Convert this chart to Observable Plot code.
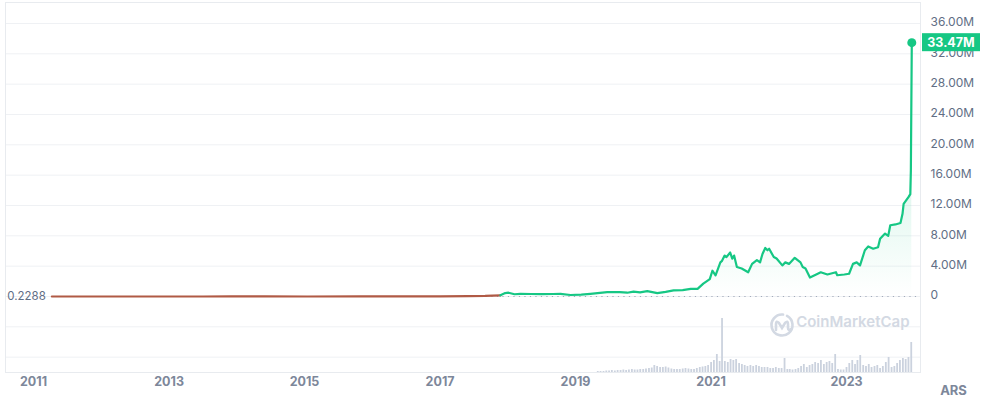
<!DOCTYPE html>
<html><head><meta charset="utf-8">
<script src="https://cdn.jsdelivr.net/npm/d3@7"></script>
<script src="https://cdn.jsdelivr.net/npm/@observablehq/plot@0.6"></script>
<style>
html,body{margin:0;padding:0;background:#fff;}
#chart{position:relative;width:981px;height:407px;}
#chart svg{position:absolute;left:0;top:0;}
</style></head><body><div id="chart"></div>
<script>
// ---- data ----
const priceDates = [
"2011-04-10","2011-06-10","2011-11-15","2012-06-01","2012-12-01","2013-04-10","2013-07-01","2013-12-01",
"2014-06-01","2015-01-15","2015-11-01","2016-06-01","2017-01-01","2017-06-01","2017-09-01","2017-11-22",
"2017-12-18","2018-01-05","2018-02-06","2018-03-10","2018-05-05","2018-07-01","2018-09-01","2018-10-12",
"2018-12-05","2019-02-01","2019-03-22","2019-06-21","2019-08-28","2019-10-07","2019-11-10","2019-12-15",
"2020-01-23","2020-03-17","2020-05-01","2020-06-13","2020-08-01","2020-09-13","2020-10-20","2020-11-20",
"2020-12-25","2021-01-08","2021-01-25","2021-02-20","2021-03-01","2021-03-15","2021-03-25","2021-04-14",
"2021-04-25","2021-05-05","2021-05-20","2021-06-15","2021-07-20","2021-08-10","2021-09-05","2021-09-22",
"2021-10-05","2021-10-20","2021-11-01","2021-11-10","2021-12-05","2021-12-20","2022-01-20","2022-02-05",
"2022-02-25","2022-03-28","2022-04-28","2022-05-10","2022-05-25","2022-06-18","2022-07-30","2022-08-15",
"2022-09-20","2022-11-05","2022-11-12","2022-12-20","2023-01-15","2023-02-05","2023-02-25","2023-03-15",
"2023-04-10","2023-04-28","2023-05-25","2023-06-20","2023-07-01","2023-07-28","2023-08-14","2023-08-25",
"2023-09-22","2023-10-19","2023-10-30","2023-11-05","2023-12-01","2023-12-11","2023-12-14","2023-12-19"
];
const priceARS = [
0.2288,120,12,28,60,1100,480,7000,
5000,2200,3800,9000,15000,45000,75000,150000,
450000,500000,300000,350000,330000,320000,330000,350000,
200000,250000,350000,570000,570000,500000,650000,550000,
700000,440000,600000,800000,850000,1000000,1000000,1700000,
2300000,3400000,2800000,4500000,4700000,5400000,5200000,5800000,
5000000,5400000,3900000,3700000,3200000,4300000,4800000,4500000,
5600000,6400000,6100000,6300000,5200000,5000000,4100000,4500000,
4300000,5100000,4500000,3900000,3700000,2500000,3000000,3200000,
2900000,3200000,2800000,2900000,3000000,4300000,4500000,4100000,
6100000,6600000,6300000,6500000,7600000,8300000,8000000,9400000,
9500000,9700000,10900000,12200000,13100000,13500000,16600000,33470000
];
const colorSplitDate = "2017-11-22";
// volume: two bars a month (1st, 16th) from May 2019 to Dec 2023
const volumeStartMonth = "2019-05-01";
const volumeB = [
1,1,1,1.5,1.5,2,1.5,2,2,2.5,2,2.5,3,2.5,2.5,3,
3,3.5,4,4.5,7,6,5,5,5.5,4.5,3.5,3,3,3,3.5,4,3.5,3,3,4,5,5.5,6,7,
10,12,18,11,54,11,10,13,12,13,9,8,7,6,7,6,7,6,5,5,5,4,4,5,
4,4,14,3,3,2.5,3,4,6,8,5,7,8,10,9,12,8,10,11,9,18,3,2.5,2.5,
5,9,12,8,12,17,7,6,8,5,6,7,4,6,10,15,5,6,9,12,14,13,15,30
];
const xTickLabels = ["2011","2013","2015","2017","2019","2021","2023"];
const yTickValues = [0,4e6,8e6,12e6,16e6,20e6,24e6,28e6,32e6,36e6];
const gridValues = [-8e6,-4e6,0,4e6,8e6,12e6,16e6,20e6,24e6,28e6,32e6,36e6];
const currency = "ARS";
const watermark = "CoinMarketCap";

// ---- build tables ----
const parse = d3.utcParse("%Y-%m-%d");
const price = priceDates.map((d,i)=>({date: parse(d), value: priceARS[i]}));
const split = parse(colorSplitDate);
const redPart = price.filter(d => d.date <= split);
const greenPart = price.filter(d => d.date >= split);
const first = price[0], last = price[price.length-1];
const baselineEnd = parse("2024-01-22");

const volDates = [];
for (const m of d3.utcMonth.range(parse(volumeStartMonth), parse("2024-01-01"))) {
  volDates.push(m, d3.utcDay.offset(m, 15));
}
const volume = volumeB.map((v,i)=>({date: volDates[i], vol: v}));

const GREEN = "#16c784", RED = "#b05a45", GRAY = "#616e85", AXISGRAY = "#7d879a";
const fmt = v => v === 0 ? "0" : (v/1e6).toFixed(2) + "M";

const common = {
  width: 981, height: 407,
  marginLeft: 5, marginRight: 61, marginTop: 2, marginBottom: 35,
  style: {fontFamily: "Inter, 'Noto Sans', sans-serif", background: "transparent", overflow: "visible"}
};
const xScale = {type: "utc", domain: [parse("2011-01-01"), parse("2023-01-01")], range: [33, 846], axis: null};

const defsMark = () => {
  const defs = d3.create("svg:defs");
  const g = defs.append("linearGradient").attr("id","cmcFill")
    .attr("x1",0).attr("x2",0).attr("y1",0).attr("y2",1);
  g.append("stop").attr("offset","0%").attr("stop-color",GREEN).attr("stop-opacity",0.3);
  g.append("stop").attr("offset","100%").attr("stop-color",GREEN).attr("stop-opacity",0);
  return defs.node();
};

const priceTag = (index, scales, values, dimensions) => {
  const y = scales.y(last.value);
  const x0 = dimensions.width - dimensions.marginRight + 2;
  const g = d3.create("svg:g");
  g.append("rect").attr("x", x0).attr("y", y - 9).attr("width", 58).attr("height", 18).attr("fill", GREEN);
  g.append("text").attr("x", x0 + 29).attr("y", y).attr("dy", "0.35em")
    .attr("text-anchor", "middle").attr("fill", "#fff").attr("font-weight", 700)
    .attr("font-size", 12.5).attr("font-family", "Inter, sans-serif").text(fmt(last.value));
  return g.node();
};

const logoMark = (index, scales, values, dimensions) => {
  const cx = dimensions.width - dimensions.marginRight - 138;
  const cy = dimensions.height - dimensions.marginBottom - 47;
  const g = d3.create("svg:g").attr("transform", `translate(${cx},${cy})`)
    .attr("fill", "none").attr("stroke", "#d3d9e3").attr("stroke-width", 2.6).attr("stroke-linecap","round");
  g.append("path").attr("d", d3.arc()({innerRadius: 0, outerRadius: 10.5, startAngle: 0.5, endAngle: 2*Math.PI + 0.1}).split("L")[0]);
  g.append("path").attr("d", "M-6,5 L-6,-1 Q-6,-5 -3,-2 L0,3 L3,-2 Q6,-5 6,-1 L6,3 Q6,6 9,4");
  return g.node();
};

const main = Plot.plot({
  ...common,
  x: xScale,
  y: {domain: [0, 36e6], range: [296, 23], axis: null},
  marks: [
    defsMark,
    Plot.ruleY(gridValues, {stroke: "#eff1f4"}),
    Plot.frame({stroke: "#e8ebef"}),
    Plot.text([watermark], {frameAnchor: "bottom-right", dx: -11, dy: -46, textAnchor: "end",
      fontSize: 15, fontWeight: 600, fill: "#d3d9e3", text: d => d}),
    logoMark,
    Plot.areaY(greenPart, {x: "date", y: "value", fill: "url(#cmcFill)"}),
    Plot.ruleY([{y: first.value, x1: first.date, x2: baselineEnd}],
      {y: "y", x1: "x1", x2: "x2", stroke: "#a3abbb", strokeWidth: 1.2, strokeDasharray: "1.2,4.3"}),
    Plot.line(redPart, {x: "date", y: "value", stroke: RED, strokeWidth: 2.2, strokeLinejoin: "round"}),
    Plot.line(greenPart, {x: "date", y: "value", stroke: GREEN, strokeWidth: 2.2, strokeLinejoin: "round"}),
    Plot.dot([last], {x: "date", y: "value", r: 4.5, fill: GREEN}),
    Plot.text([first], {x: "date", y: "value", text: d => d.value.toString(), textAnchor: "end", dx: -6,
      fontSize: 11.5, fill: GRAY}),
    Plot.text(yTickValues, {y: d => d, frameAnchor: "right", dx: 10, dy: -1, textAnchor: "start",
      text: fmt, fontSize: 12, fill: GRAY}),
    Plot.text(xTickLabels, {x: d => parse(d + "-01-01"), frameAnchor: "bottom", dy: 13, text: d => d,
      fontSize: 12.5, fontWeight: 700, fill: AXISGRAY}),
    Plot.text([currency], {frameAnchor: "bottom-right", dx: 33, dy: 22, textAnchor: "middle",
      text: d => d, fontSize: 13, fontWeight: 700, fill: AXISGRAY}),
    priceTag
  ]
});

const vol = Plot.plot({
  ...common,
  x: xScale,
  y: {domain: [0, 54], range: [372, 318], axis: null},
  marks: [
    Plot.ruleX(volume, {x: "date", y: "vol", stroke: "#cbd2de", strokeWidth: 1.8})
  ]
});

const host = document.getElementById("chart");
host.append(main, vol);
</script>
</body></html>
